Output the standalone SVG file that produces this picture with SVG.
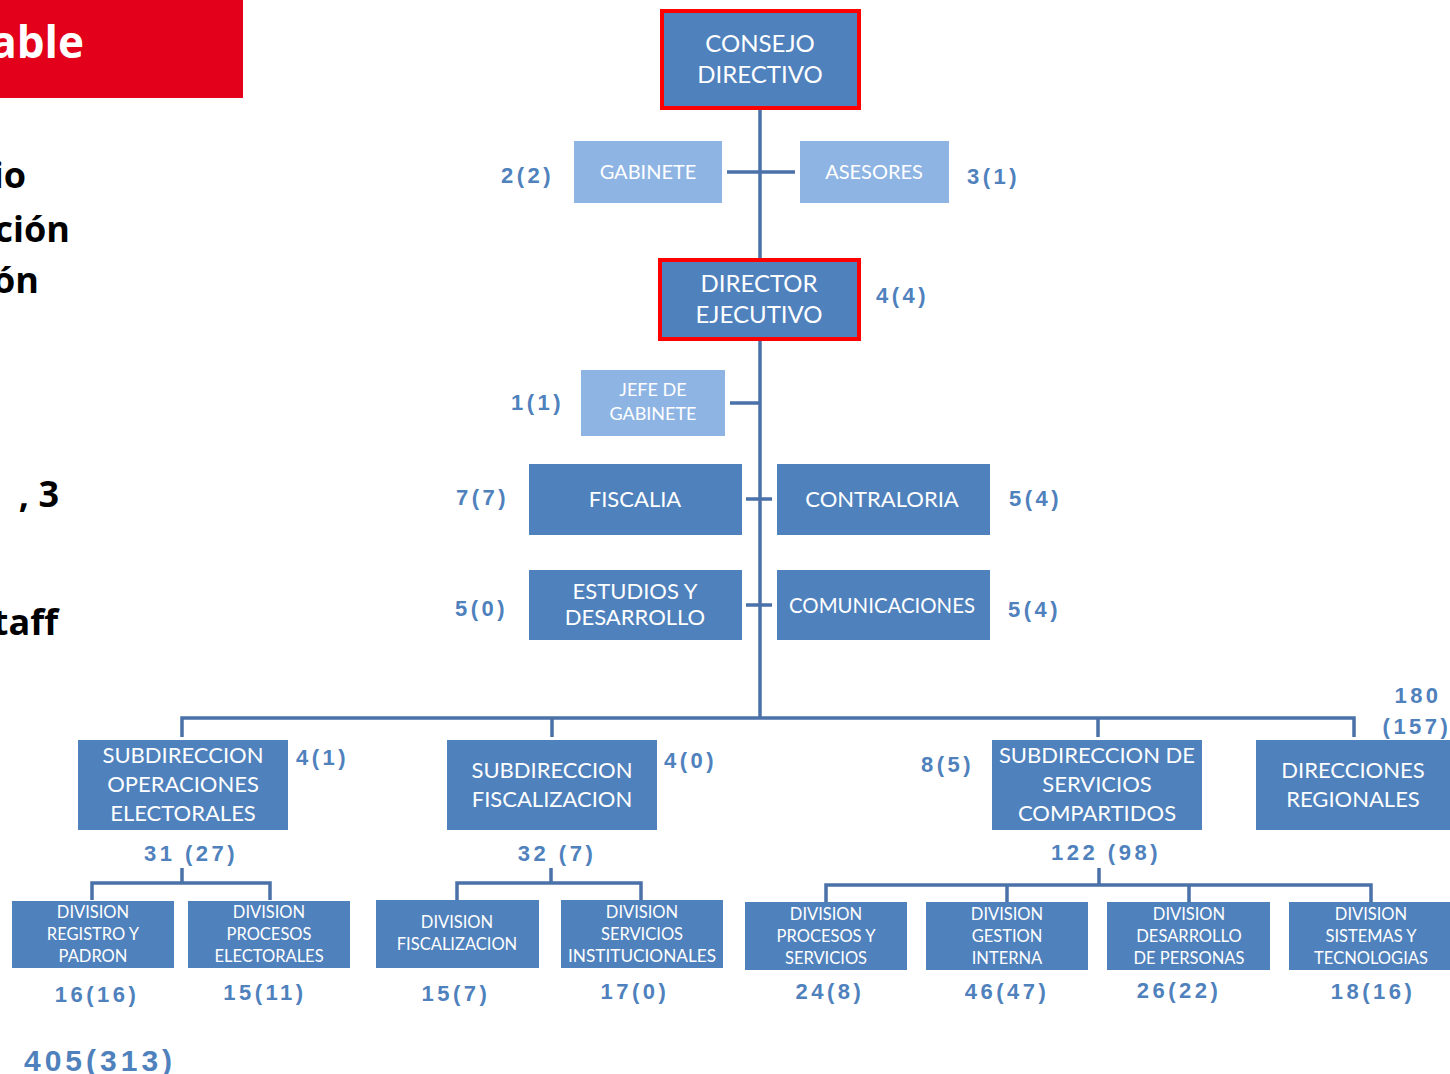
<svg xmlns="http://www.w3.org/2000/svg" width="1450" height="1074" viewBox="0 0 1450 1074">
<style>
.dark{fill:#4F81BD}
.light{fill:#8EB4E3}
.red{fill:#4F81BD;stroke:#FF0000;stroke-width:4}
.t{font-family:Lato,"Liberation Sans",sans-serif;fill:#FFFFFF;text-anchor:middle;dominant-baseline:central}
.t24{font-size:24px}
.t22{font-size:22px}
.t20{font-size:20px}
.t18{font-size:18px}
.t17{font-size:16.5px}
.n{font-family:"Liberation Sans",Arial,sans-serif;font-weight:bold;fill:#4F81BD;font-size:22px;letter-spacing:3.5px;dominant-baseline:central}
.big{font-size:30px;letter-spacing:4px}
.blk{font-family:"Open Sans","Liberation Sans",sans-serif;font-weight:bold;fill:#000;font-size:36px;text-anchor:end}
.c{stroke:#4A72A8;stroke-width:3.5;fill:none}
</style>
<rect x="0" y="0" width="243" height="98" fill="#E2001A"/>
<text x="84" y="58" font-family="Open Sans,Liberation Sans,sans-serif" font-weight="bold" font-size="44" fill="#FFFFFF" text-anchor="end">able</text>
<text class="blk" x="26" y="188">io</text>
<text class="blk" x="70" y="242">ción</text>
<text class="blk" x="39" y="293">ón</text>
<text class="blk" x="59" y="507">, 3</text>
<text class="blk" x="58" y="635">taff</text>

<g id="connectors">
<path class="c" d="M760 109V718M727 172H795M730 403H760M746 499H772M746 605H772"/>
<path class="c" d="M182 737V718H1354V737M552 718V737M1098 718V737"/>
<path class="c" d="M182 868V883M92 900V883H270V900"/>
<path class="c" d="M551 868V883M457 900V883H641V900"/>
<path class="c" d="M1099 868V885M826 902V885H1371V902M1007 885V902M1189 885V902"/>
</g>

<g id="consejo"><rect class="red" x="662" y="11" width="197" height="97"/><text class="t t24" x="760" y="42">CONSEJO</text><text class="t t24" x="760" y="73">DIRECTIVO</text></g>
<g id="gabinete"><rect class="light" x="574" y="141" width="148" height="62"/><text class="t t20" x="648" y="171">GABINETE</text><text class="n" x="501" y="175">2(2)</text></g>
<g id="asesores"><rect class="light" x="800" y="141" width="149" height="62"/><text class="t t20" x="874" y="171">ASESORES</text><text class="n" x="967" y="176">3(1)</text></g>
<g id="director"><rect class="red" x="660" y="260" width="199" height="79"/><text class="t t24" x="759" y="282">DIRECTOR</text><text class="t t24" x="759" y="313">EJECUTIVO</text><text class="n" x="876" y="295">4(4)</text></g>
<g id="jefe"><rect class="light" x="581" y="370" width="144" height="66"/><text class="t t18" x="653" y="389">JEFE DE</text><text class="t t18" x="653" y="413">GABINETE</text><text class="n" x="511" y="402">1(1)</text></g>
<g id="fiscalia"><rect class="dark" x="529" y="464" width="213" height="71"/><text class="t t22" x="635" y="498">FISCALIA</text><text class="n" x="456" y="497">7(7)</text></g>
<g id="contraloria"><rect class="dark" x="777" y="464" width="213" height="71"/><text class="t t22" x="882" y="498">CONTRALORIA</text><text class="n" x="1009" y="498">5(4)</text></g>
<g id="estudios"><rect class="dark" x="529" y="570" width="213" height="70"/><text class="t t22" x="635" y="590">ESTUDIOS Y</text><text class="t t22" x="635" y="616">DESARROLLO</text><text class="n" x="455" y="608">5(0)</text></g>
<g id="comunicaciones"><rect class="dark" x="777" y="570" width="213" height="70"/><text class="t t22" x="882" y="604" textLength="186" lengthAdjust="spacingAndGlyphs">COMUNICACIONES</text><text class="n" x="1008" y="609">5(4)</text></g>

<g id="sub-operaciones"><rect class="dark" x="78" y="740" width="210" height="90"/><text class="t t22" x="183" y="754">SUBDIRECCION</text><text class="t t22" x="183" y="783">OPERACIONES</text><text class="t t22" x="183" y="812">ELECTORALES</text><text class="n" x="296" y="757">4(1)</text><text class="n" x="191" y="853" text-anchor="middle">31 (27)</text></g>
<g id="sub-fiscalizacion"><rect class="dark" x="447" y="740" width="210" height="90"/><text class="t t22" x="552" y="769">SUBDIRECCION</text><text class="t t22" x="552" y="798">FISCALIZACION</text><text class="n" x="664" y="760">4(0)</text><text class="n" x="557" y="853" text-anchor="middle">32 (7)</text></g>
<g id="sub-servicios"><rect class="dark" x="992" y="740" width="210" height="90"/><text class="t t22" x="1097" y="754">SUBDIRECCION DE</text><text class="t t22" x="1097" y="783">SERVICIOS</text><text class="t t22" x="1097" y="812">COMPARTIDOS</text><text class="n" x="921" y="764">8(5)</text><text class="n" x="1106" y="852" text-anchor="middle">122 (98)</text></g>
<g id="regionales"><rect class="dark" x="1256" y="740" width="194" height="90"/><text class="t t22" x="1353" y="769">DIRECCIONES</text><text class="t t22" x="1353" y="798">REGIONALES</text><text class="n" x="1418" y="695" text-anchor="middle">180</text><text class="n" x="1417" y="726" text-anchor="middle">(157)</text></g>

<g id="div-registro"><rect class="dark" x="12" y="901" width="162" height="67"/><text class="t t17" x="93" y="912">DIVISION</text><text class="t t17" x="93" y="934">REGISTRO Y</text><text class="t t17" x="93" y="956">PADRON</text><text class="n" x="97" y="994" text-anchor="middle">16(16)</text></g>
<g id="div-procesos-elect"><rect class="dark" x="188" y="901" width="162" height="67"/><text class="t t17" x="269" y="912">DIVISION</text><text class="t t17" x="269" y="934">PROCESOS</text><text class="t t17" x="269" y="956">ELECTORALES</text><text class="n" x="265" y="992" text-anchor="middle">15(11)</text></g>
<g id="div-fiscalizacion"><rect class="dark" x="376" y="900" width="163" height="68"/><text class="t t17" x="457" y="922">DIVISION</text><text class="t t17" x="457" y="944">FISCALIZACION</text><text class="n" x="456" y="993" text-anchor="middle">15(7)</text></g>
<g id="div-servicios-inst"><rect class="dark" x="561" y="900" width="162" height="68"/><text class="t t17" x="642" y="912">DIVISION</text><text class="t t17" x="642" y="934">SERVICIOS</text><text class="t t17" x="642" y="956" textLength="148" lengthAdjust="spacingAndGlyphs">INSTITUCIONALES</text><text class="n" x="635" y="991" text-anchor="middle">17(0)</text></g>
<g id="div-procesos-serv"><rect class="dark" x="745" y="902" width="162" height="68"/><text class="t t17" x="826" y="914">DIVISION</text><text class="t t17" x="826" y="936">PROCESOS Y</text><text class="t t17" x="826" y="958">SERVICIOS</text><text class="n" x="830" y="991" text-anchor="middle">24(8)</text></g>
<g id="div-gestion"><rect class="dark" x="926" y="902" width="162" height="68"/><text class="t t17" x="1007" y="914">DIVISION</text><text class="t t17" x="1007" y="936">GESTION</text><text class="t t17" x="1007" y="958">INTERNA</text><text class="n" x="1007" y="991" text-anchor="middle">46(47)</text></g>
<g id="div-desarrollo"><rect class="dark" x="1107" y="902" width="163" height="68"/><text class="t t17" x="1189" y="914">DIVISION</text><text class="t t17" x="1189" y="936">DESARROLLO</text><text class="t t17" x="1189" y="958">DE PERSONAS</text><text class="n" x="1179" y="990" text-anchor="middle">26(22)</text></g>
<g id="div-sistemas"><rect class="dark" x="1289" y="902" width="161" height="68"/><text class="t t17" x="1371" y="914">DIVISION</text><text class="t t17" x="1371" y="936">SISTEMAS Y</text><text class="t t17" x="1371" y="958">TECNOLOGIAS</text><text class="n" x="1373" y="991" text-anchor="middle">18(16)</text></g>

<text class="n big" x="24" y="1060">405(313)</text>
</svg>
